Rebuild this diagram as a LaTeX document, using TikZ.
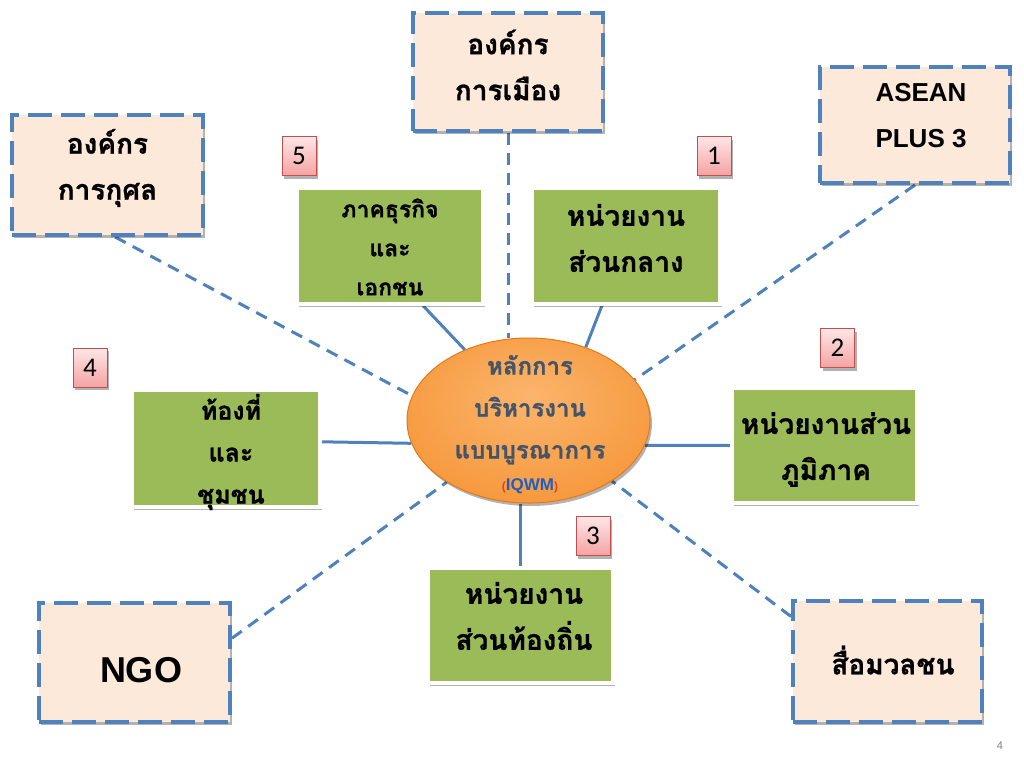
\documentclass[tikz,border=0pt]{standalone}
\usepackage{fontspec}
\setmainfont{Liberation Sans}
\newfontfamily\thai[Script=Thai,BoldFeatures={FakeBold=1}]{Loma}
\newfontfamily\calfont{Carlito}
\usetikzlibrary{shapes.geometric,shadows,backgrounds}
\definecolor{dblue}{HTML}{4F81BD}
\definecolor{peach}{HTML}{FDE9D9}
\definecolor{mygreen}{HTML}{9BBB59}
\definecolor{eltext}{HTML}{44546A}
\definecolor{ellin}{HTML}{FBB56C}
\definecolor{ellout}{HTML}{F48E2C}
\definecolor{elldark}{HTML}{E77817}
\definecolor{iqblue}{HTML}{1F5FC0}
\definecolor{iqred}{HTML}{E0441C}
\definecolor{pinktop}{HTML}{FFE6E6}
\definecolor{pinkbot}{HTML}{F4A3A3}
\definecolor{pinkborder}{HTML}{C0504D}
\pgfdeclareradialshading{ellshade}{\pgfpoint{0bp}{8bp}}{color(0bp)=(ellin); color(22bp)=(ellin!45!ellout); color(40bp)=(ellout); color(50bp)=(elldark)}
\tikzset{
  shad/.style={drop shadow={shadow xshift=2pt,shadow yshift=-3pt,opacity=.3,fill=black}},
  dbox/.style={shad,draw=dblue,line width=4pt,dash pattern=on 24pt off 9pt,fill=peach,inner sep=0pt},
  gbox/.style={shad,draw=white,line width=3.5pt,fill=mygreen,inner sep=0pt},
  numbox/.style={shad,draw=pinkborder,line width=0.8pt,top color=pinktop,bottom color=pinkbot,minimum width=34pt,minimum height=39pt,inner sep=0pt,font=\calfont\fontsize{27}{30}\selectfont},
  sconn/.style={draw=dblue,line width=3pt},
  dconn/.style={draw=dblue,line width=3pt,dash pattern=on 12pt off 8pt},
  txt/.style={inner sep=0pt,align=center},
  thaibig/.style={txt,font=\thai\bfseries\fontsize{28}{46}\selectfont},
  latinbox/.style={txt,font=\bfseries\fontsize{26}{46}\selectfont},
}
\begin{document}
\begin{tikzpicture}[x=1pt,y=-1pt]
\begin{pgfonlayer}{background}
\fill[white] (0,0) rectangle (1024,768);
\end{pgfonlayer}
\useasboundingbox (0,0) rectangle (1024,768);

% dashed outer boxes
\node[dbox,minimum width=190pt,minimum height=118pt] (pol) at (508,72) {};
\node[thaibig] (polt) at (508,65) {องค์กร\\การเมือง};
\node[dbox,minimum width=190pt,minimum height=116pt] (asean) at (915,125) {};
\node[latinbox] (aseant) at (921,116) {ASEAN\\PLUS 3};
\node[dbox,minimum width=191pt,minimum height=120pt] (char) at (107.5,175) {};
\node[thaibig] (chart) at (107.5,168) {องค์กร\\การกุศล};
\node[dbox,minimum width=191pt,minimum height=119pt] (ngo) at (134.5,662.5) {};
\node[txt,font=\bfseries\fontsize{36}{40}\selectfont] (ngot) at (141,670.5) {NGO};
\node[dbox,minimum width=189pt,minimum height=121pt] (media) at (887.5,661.5) {};
\node[thaibig] (mediat) at (893,660) {สื่อมวลชน};

% green boxes
\node[gbox,minimum width=186pt,minimum height=116pt] (biz) at (390,246) {};
\node[txt,font=\thai\bfseries\fontsize{23}{39}\selectfont] (bizt) at (390,247) {ภาคธุรกิจ\\และ\\เอกชน};
\node[gbox,minimum width=188pt,minimum height=116pt] (ctr) at (626,246) {};
\node[thaibig] (ctrt) at (626,238) {หน่วยงาน\\ส่วนกลาง};
\node[gbox,minimum width=185pt,minimum height=115pt] (reg) at (824.5,445.5) {};
\node[thaibig] (regt) at (826,449.5) {หน่วยงานส่วน\\ภูมิภาค};
\node[gbox,minimum width=188pt,minimum height=117pt] (com) at (226,448.5) {};
\node[txt,font=\thai\bfseries\fontsize{25}{42}\selectfont] (comt) at (231,452) {ท้องที่\\และ\\ชุมชน};
\node[gbox,minimum width=185pt,minimum height=115pt] (loc) at (520.5,625.5) {};
\node[thaibig] (loct) at (524,616) {หน่วยงาน\\ส่วนท้องถิ่น};

% central ellipse
\node[ellipse,shad,shading=ellshade,draw=elldark,line width=1pt,minimum width=243pt,minimum height=165pt,inner sep=0pt] (ell) at (528.5,420.5) {};
\node[txt,text=eltext,font=\thai\bfseries\fontsize{24}{42}\selectfont] (ellt) at (530,424.5)
  {หลักการ\\บริหารงาน\\แบบบูรณาการ\\[-10pt]{\normalfont\bfseries\fontsize{17}{20}\selectfont\textcolor{iqred}{\fontsize{12}{14}\selectfont(}\textcolor{iqblue}{IQWM}\textcolor{iqred}{\fontsize{12}{14}\selectfont)}}};

% number boxes
\node[numbox] (n5) at (299,156) {5};
\node[numbox] (n1) at (714,156) {1};
\node[numbox] (n2) at (837.5,348) {2};
\node[numbox] (n4) at (90,367.5) {4};
\node[numbox] (n3) at (593,536) {3};

% page number
\node[text=gray,font=\fontsize{11}{13}\selectfont] (pg) at (1000,746) {4};

% connectors
\begin{pgfonlayer}{background}
\draw[sconn] (biz.-61) -- (ell.132);
\draw[sconn] (ctr.-112) -- (ell.52);
\draw[sconn] (ell.-12) -- (reg.west);
\draw[sconn] (com.4) -- (ell.191);
\draw[sconn] (loc.north) -- (loc.north |- ell.south);
\draw[dconn] (pol.south) -- (pol.south |- ell.north);
\draw[dconn] (asean.south) -- (ell.21);
\draw[dconn] (char.-83) -- (ell.168);
\draw[dconn] (ngo.14) -- (ell.217);
\draw[dconn] (media.155) -- (ell.-36);
\end{pgfonlayer}
\end{tikzpicture}
\end{document}
